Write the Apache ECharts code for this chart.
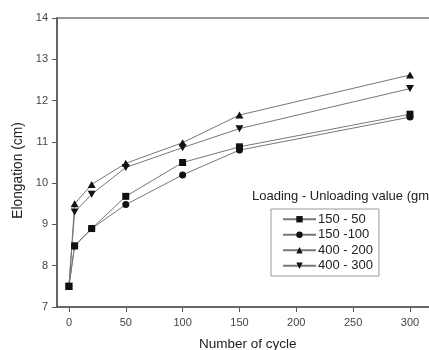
<!DOCTYPE html>
<html>
<head>
<meta charset="utf-8">
<script src="https://cdn.jsdelivr.net/npm/echarts@6/dist/echarts.min.js"></script>
<style>
  html, body { margin: 0; padding: 0; background: #fff; }
  #chart { width: 429px; height: 350px; }
</style>
</head>
<body>
<div id="chart"></div>
<script>
// Cycle counts and measured elongation (cm) for each loading/unloading pair
const cycles = [0, 5, 20, 50, 100, 150, 300];
const seriesNames = ['150 - 50', '150 -100', '400 - 200', '400 - 300'];
const elong150_50  = [7.5, 8.48, 8.9, 9.68, 10.5, 10.88, 11.67];
const elong150_100 = [7.5, 8.48, 8.9, 9.48, 10.2, 10.8, 11.6];
const elong400_200 = [7.5, 9.5, 9.97, 10.48, 10.98, 11.65, 12.62];
const elong400_300 = [7.5, 9.3, 9.73, 10.38, 10.86, 11.32, 12.29];
const xTicks = [0, 50, 100, 150, 200, 250, 300];

const markers = ['rect', 'circle', 'triangle', 'path://M0,0 L10,0 L5,9 Z'];
const values = [elong150_50, elong150_100, elong400_200, elong400_300];

const chart = echarts.init(document.getElementById('chart'));
const font = 'Liberation Sans, Arial, sans-serif';
const axisColor = '#555';

chart.setOption({
  animation: false,
  backgroundColor: '#fff',
  title: {
    text: 'Loading - Unloading value (gm)',
    left: 252, top: 190,
    padding: 0,
    textStyle: { fontFamily: font, fontSize: 13, fontWeight: 'normal', color: '#222' }
  },
  legend: {
    data: seriesNames,
    orient: 'vertical',
    left: 271, top: 209,
    padding: [3, 6, 3, 11],
    itemGap: 1,
    itemWidth: 33, itemHeight: 8,
    borderColor: '#999', borderWidth: 1,
    textStyle: { fontFamily: font, fontSize: 13, color: '#222', lineHeight: 14.5, padding: [0, 0, 0, -3] }
  },
  grid: {
    left: 57, top: 18, bottom: 43, right: -9.4,
    outerBoundsMode: 'none', containLabel: false,
    show: true, borderColor: '#777', borderWidth: 1.5, backgroundColor: 'transparent'
  },
  xAxis: {
    type: 'value', min: -10.5, max: 325,
    name: 'Number of cycle', nameLocation: 'middle', nameGap: 30,
    nameTextStyle: { fontFamily: font, fontSize: 13.5, color: '#222' },
    axisLine: { onZero: false, lineStyle: { color: axisColor, width: 1.5 } },
    axisTick: { customValues: xTicks, length: 5, lineStyle: { color: axisColor } },
    axisLabel: { customValues: xTicks, fontFamily: font, fontSize: 11, color: '#444', margin: 10 },
    splitLine: { show: false }
  },
  yAxis: {
    type: 'value', min: 7, max: 14, interval: 1,
    name: 'Elongation (cm)', nameLocation: 'middle', nameGap: 29,
    nameTextStyle: { fontFamily: font, fontSize: 13.8, color: '#222', padding: [0, 16, 0, 0] },
    axisLine: { show: true, onZero: false, lineStyle: { color: axisColor, width: 1.5 } },
    axisTick: { show: true, length: 5, lineStyle: { color: axisColor } },
    axisLabel: { fontFamily: font, fontSize: 11, color: '#444', margin: 9 },
    splitLine: { show: false }
  },
  series: seriesNames.map((name, i) => ({
    name: name,
    type: 'line',
    data: cycles.map((c, j) => [c, values[i][j]]),
    symbol: markers[i],
    symbolSize: i >= 2 ? [8, 7] : 7,
    showAllSymbol: true,
    lineStyle: { color: '#777', width: 1 },
    itemStyle: { color: '#111' }
  }))
});
</script>
</body>
</html>
